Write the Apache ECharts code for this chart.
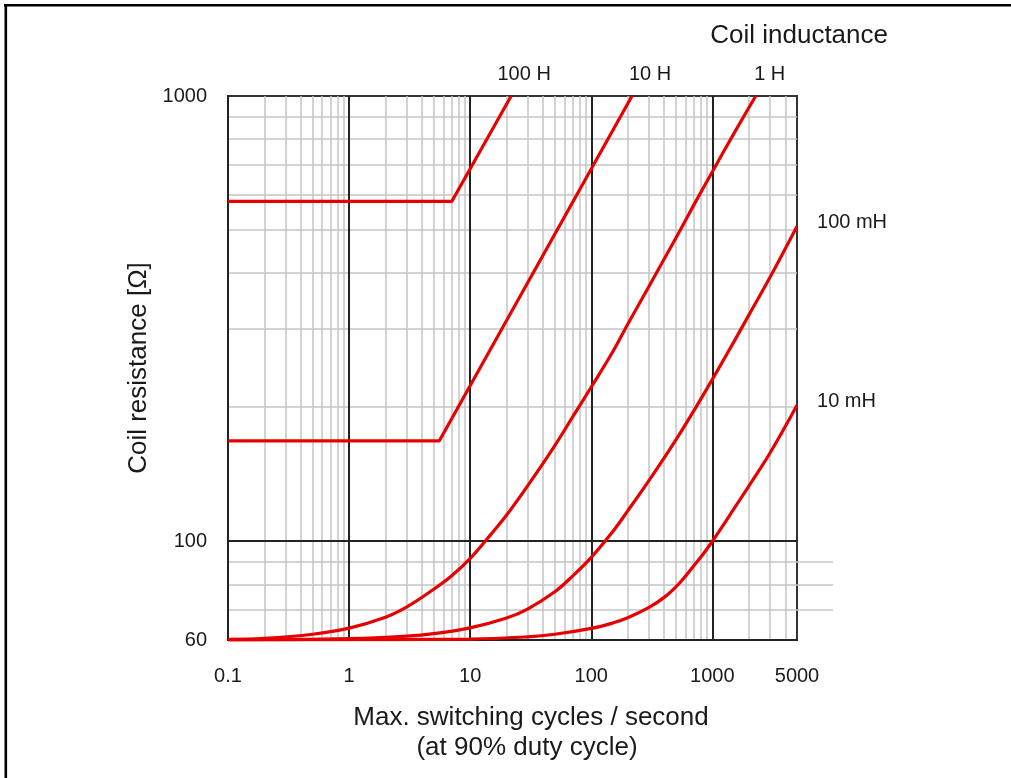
<!DOCTYPE html>
<html><head><meta charset="utf-8">
<script src="https://cdn.jsdelivr.net/npm/echarts@6/dist/echarts.min.js"></script>
<style>html,body{margin:0;padding:0;background:#fff}#c{width:1011px;height:778px}</style>
</head><body><div id="c"></div>
<script>
// ---- data ----
const seriesNames = ['100 H', '10 H', '1 H', '100 mH', '10 mH'];
const curve100H = [[0.1, 580], [7.06, 580], [21.8, 1000]];
const curve10H = [[0.1, 168], [5.55, 168], [217, 1000]];
const curve1H = [[0.1, 60.2], [0.2, 60.5], [0.5, 61.8], [1, 63.8], [2, 67.5], [3, 71.2], [5, 78], [7, 83.5], [10, 91.5], [15, 104], [20, 114.5], [30, 133.5], [50, 164], [70, 190], [100, 222], [150, 266], [200, 307], [300, 374], [500, 480], [700, 568], [1000, 676], [1500, 822], [2280, 1000]];
const curve100mH = [[0.1, 60], [1, 60.4], [3, 61.2], [5, 62], [10, 63.9], [20, 67.2], [30, 70.5], [50, 77], [70, 83.5], [100, 92], [150, 105], [200, 117], [300, 137], [500, 169], [700, 196], [1000, 231], [1500, 280], [2000, 322], [3000, 392], [5000, 510]];
const curve10mH = [[0.1, 60], [10, 60.3], [30, 61], [50, 61.8], [100, 63.7], [150, 65.5], [200, 67.3], [300, 71], [400, 74.8], [500, 79], [600, 83.5], [700, 88], [850, 94], [1000, 100], [1500, 118], [2000, 133], [3000, 158], [5000, 202]];
const xTickLabels = [0.1, 1, 10, 100, 1000, 5000];
const yTickLabels = [60, 100, 1000];
const xMajor = [1, 10, 100, 1000];
const xMinor = [0.2, 0.3, 0.4, 0.5, 0.6, 0.7, 0.8, 0.9, 2, 3, 4, 5, 6, 7, 8, 9, 20, 30, 40, 50, 60, 70, 80, 90, 200, 300, 400, 500, 600, 700, 800, 900, 2000, 3000, 4000];
const yMajor = [100];
const yMinorUpper = [200, 300, 400, 500, 600, 700, 800, 900];
const yMinorLower = [70, 80, 90];

// ---- styles ----
const FONT = '"Liberation Sans", Arial, sans-serif';
const TXT = '#1a1a1a';
const RED = '#e60000';
const GRAY = '#c2c4c7';
const DARK = '#222';

const curves = [curve100H, curve10H, curve1H, curve100mH, curve10mH];
const labelCfg = [
  { position: 'top', distance: 12, offset: [13, 0] },
  { position: 'top', distance: 12, offset: [18, 0] },
  { position: 'top', distance: 12, offset: [14, 0] },
  { position: 'right', distance: 20, offset: [0, -4] },
  { position: 'right', distance: 20, offset: [0, -4] }
];

function buildData(pts, i) {
  return pts.map((p, k) => {
    if (k !== pts.length - 1) return p;
    return {
      value: p,
      symbol: 'circle',
      symbolSize: 0.01,
      label: Object.assign({
        show: true, formatter: seriesNames[i], color: TXT,
        fontSize: 20, fontFamily: FONT
      }, labelCfg[i])
    };
  });
}

const chart = echarts.init(document.getElementById('c'), null, { renderer: 'canvas' });

const logX = { type: 'log', logBase: 10, min: 0.1, max: 5000 };
const logY = { type: 'log', logBase: 10, min: 60, max: 1000 };

const option = {
  animation: false,
  backgroundColor: '#fff',
  grid: [
    { left: 228, right: 214, top: 96, bottom: 138, show: true, borderColor: '#333', borderWidth: 2, containLabel: false, outerBoundsMode: 'none' },
    { left: 228, right: 178, top: 96, bottom: 138, show: false, containLabel: false, outerBoundsMode: 'none' }
  ],
  xAxis: [
    Object.assign({}, logX, {
      gridIndex: 0, z: 1,
      axisLine: { show: true, lineStyle: { color: DARK, width: 2 } },
      axisTick: { show: false, customValues: xMajor },
      axisLabel: {
        customValues: xTickLabels, margin: 26, fontSize: 20, color: TXT, fontFamily: FONT,
        formatter: v => (v < 1 ? Number(v).toFixed(1) : String(Math.round(v)))
      },
      splitLine: { show: true, lineStyle: { color: DARK, width: 2 } }
    }),
    Object.assign({}, logX, {
      gridIndex: 0, z: 0,
      axisLine: { show: false },
      axisTick: { show: false, customValues: xMinor },
      axisLabel: { show: false },
      splitLine: { show: true, lineStyle: { color: GRAY, width: 1.5 } }
    }),
    { type: 'value', gridIndex: 1, min: 0, max: 1, show: false }
  ],
  yAxis: [
    Object.assign({}, logY, {
      gridIndex: 0, z: 1,
      name: 'Coil resistance [Ω]', nameLocation: 'middle', nameGap: 72,
      nameTextStyle: { fontSize: 26, color: TXT, fontFamily: FONT },
      axisLine: { show: true, lineStyle: { color: DARK, width: 2 } },
      axisTick: { show: false, customValues: yMajor },
      axisLabel: {
        customValues: yTickLabels, margin: 21, fontSize: 20, color: TXT, fontFamily: FONT,
        formatter: v => String(Math.round(v))
      },
      splitLine: { show: true, lineStyle: { color: DARK, width: 2 } }
    }),
    Object.assign({}, logY, {
      gridIndex: 0, z: 0, position: 'left',
      axisLine: { show: false },
      axisTick: { show: false, customValues: yMinorUpper },
      axisLabel: { show: false },
      splitLine: { show: true, lineStyle: { color: GRAY, width: 1.5 } }
    }),
    Object.assign({}, logY, {
      gridIndex: 1, z: 0, position: 'left',
      axisLine: { show: false },
      axisTick: { show: false, customValues: yMinorLower },
      axisLabel: { show: false },
      splitLine: { show: true, lineStyle: { color: GRAY, width: 1.5 } }
    })
  ],
  series: curves.map((c, i) => ({
    name: seriesNames[i],
    type: 'line',
    xAxisIndex: 0, yAxisIndex: 0,
    data: buildData(c, i),
    smooth: i >= 2 ? 0.4 : false,
    showSymbol: true,
    symbol: 'none',
    z: 5,
    lineStyle: { color: RED, width: 3.2 },
    itemStyle: { color: RED },
    emphasis: { disabled: true }
  })),
  graphic: [
    { type: 'line', shape: { x1: 4, y1: 5.3, x2: 1011, y2: 5.3 }, style: { stroke: '#000', lineWidth: 2.6 }, silent: true },
    { type: 'line', shape: { x1: 5.8, y1: 4, x2: 5.8, y2: 778 }, style: { stroke: '#000', lineWidth: 2.6 }, silent: true },
    { type: 'text', x: 888, y: 36, style: { text: 'Coil inductance', fill: TXT, font: '26px ' + FONT, textAlign: 'right', textVerticalAlign: 'middle' } },
    { type: 'text', x: 531, y: 718, style: { text: 'Max. switching cycles / second', fill: TXT, font: '26px ' + FONT, textAlign: 'center', textVerticalAlign: 'middle' } },
    { type: 'text', x: 527, y: 748, style: { text: '(at 90% duty cycle)', fill: TXT, font: '26px ' + FONT, textAlign: 'center', textVerticalAlign: 'middle' } }
  ]
};
chart.setOption(option);
</script>
</body></html>
